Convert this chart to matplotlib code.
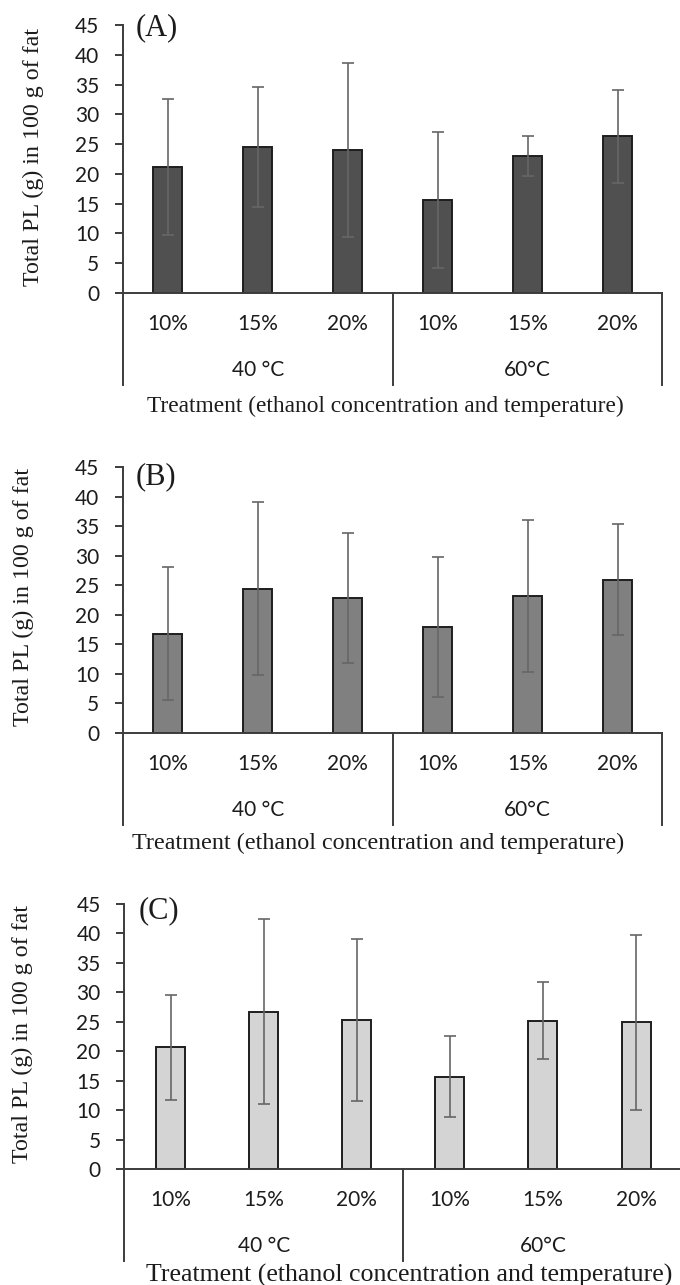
import matplotlib
matplotlib.use("Agg")
import matplotlib.pyplot as plt
from matplotlib.transforms import blended_transform_factory

W, H = 680, 1285  # figure size in pixels (dpi 100)

CONCENTRATIONS = ["10%", "15%", "20%", "10%", "15%", "20%"]
TEMPERATURES = ["40 °C", "60°C"]
YTICKS = list(range(0, 46, 5))

# total PL (g / 100 g fat), mean and SD per treatment
PL_A = [21.1, 24.5, 24.0, 15.6, 23.0, 26.3]
SD_A = [11.4, 10.1, 14.6, 11.4, 3.4, 7.8]
PL_B = [16.8, 24.4, 22.8, 17.9, 23.2, 25.9]
SD_B = [11.2, 14.6, 11.0, 11.8, 12.9, 9.4]
PL_C = [20.7, 26.7, 25.3, 15.7, 25.2, 24.9]
SD_C = [8.9, 15.7, 13.7, 6.9, 6.6, 14.8]

YLABEL = "Total PL (g) in 100 g of fat"
XLABEL = "Treatment (ethanol concentration and temperature)"

SERIF = "Liberation Serif"
SANS = "Lato"
AXIS_COLOR = "#3c3c3c"
TEXT_COLOR = "#1c1c1c"
SANS_SIZE = 15

# panel layout, all in pixels of the final image
PANELS = [
    dict(tag="(A)", vals=PL_A, errs=SD_A, color="#505050",
         left=122.7, right=662.5, top=25, bottom=293,
         ylab=(33, 157), tagpos=(157, 28), xlab=(385, 406), xlab_size=16.8),
    dict(tag="(B)", vals=PL_B, errs=SD_B, color="#808080",
         left=122.7, right=662.5, top=467, bottom=733,
         ylab=(23, 597), tagpos=(156, 477), xlab=(378, 843), xlab_size=17.4),
    dict(tag="(C)", vals=PL_C, errs=SD_C, color="#d4d4d4",
         left=124.0, right=682.6, top=904, bottom=1169,
         ylab=(22, 1034), tagpos=(159, 911), xlab=(409, 1275), xlab_size=18.6),
]


def fx(x):
    return x / W


def fy(y):
    return 1 - y / H


fig = plt.figure(figsize=(W / 100, H / 100), dpi=100)

for p in PANELS:
    ax = fig.add_axes([fx(p["left"]), fy(p["bottom"]),
                       (p["right"] - p["left"]) / W, (p["bottom"] - p["top"]) / H])
    ax_h = p["bottom"] - p["top"]
    step = (p["right"] - p["left"]) / len(CONCENTRATIONS)
    x = list(range(len(CONCENTRATIONS)))

    ax.bar(x, p["vals"], width=29 / step, color=p["color"],
           edgecolor="#1e1e1e", linewidth=1.4, zorder=2)
    ax.errorbar(x, p["vals"], yerr=p["errs"], fmt="none", ecolor="#666666",
                elinewidth=1.2, capsize=4.3, capthick=1.2, zorder=3)

    ax.set_xlim(-0.5, len(CONCENTRATIONS) - 0.5)
    ax.set_ylim(0, 45)
    ax.set_yticks(YTICKS)
    ax.set_xticks([])
    ax.tick_params(axis="y", direction="out", length=5.8, width=1.4,
                   color=AXIS_COLOR, pad=11, labelsize=SANS_SIZE,
                   labelcolor=TEXT_COLOR)
    for lab in ax.get_yticklabels():
        lab.set_fontfamily(SANS)
    for side in ("top", "right"):
        ax.spines[side].set_visible(False)
    for side in ("left", "bottom"):
        ax.spines[side].set_color(AXIS_COLOR)
        ax.spines[side].set_linewidth(1.4)

    # multi-level category axis below the zero line
    trans = blended_transform_factory(ax.transData, ax.transAxes)
    line_end = -92 / ax_h
    for xv in (-0.5, 2.5, 5.5):
        ax.plot([xv, xv], [0, line_end], color=AXIS_COLOR, lw=1.4,
                transform=trans, clip_on=False)
    for xv, lab in zip(x, CONCENTRATIONS):
        ax.text(xv, -31 / ax_h, lab, transform=trans, ha="center", va="center",
                fontsize=SANS_SIZE, family=SANS, color=TEXT_COLOR)
    for i, lab in enumerate(TEMPERATURES):
        ax.text(1 + 3 * i, -77 / ax_h, lab, transform=trans, ha="center",
                va="center", fontsize=SANS_SIZE, family=SANS, color=TEXT_COLOR)

    fig.text(fx(p["xlab"][0]), fy(p["xlab"][1]), XLABEL, ha="center",
             va="center", fontsize=p["xlab_size"], family=SERIF, color=TEXT_COLOR)
    fig.text(fx(p["ylab"][0]), fy(p["ylab"][1]), YLABEL, rotation=90,
             ha="center", va="center", fontsize=17.3, family=SERIF,
             color=TEXT_COLOR)
    fig.text(fx(p["tagpos"][0]), fy(p["tagpos"][1]), p["tag"], ha="center",
             va="center", fontsize=22, family=SERIF, color=TEXT_COLOR)

fig.savefig("out.png", dpi=100)
